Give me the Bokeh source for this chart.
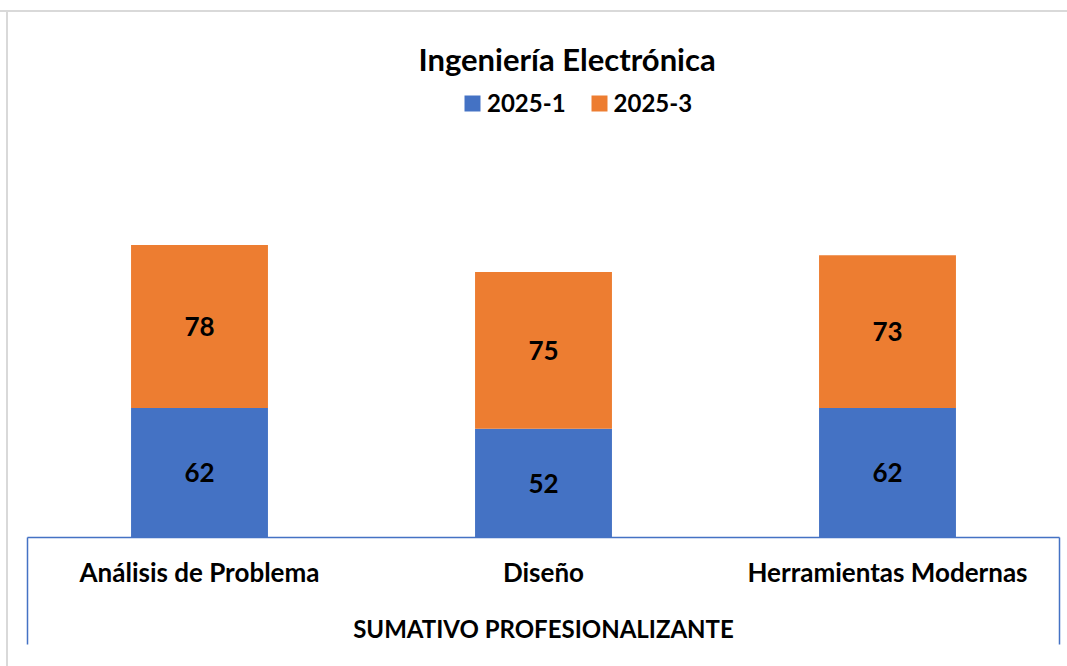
from bokeh.plotting import figure
from bokeh.models import (Range1d, FixedTicker, Legend, LegendItem, LabelSet,
                          ColumnDataSource)
from bokeh.core.properties import value
from bokeh.embed import file_html
from bokeh.resources import INLINE

# ---- data ----
categories = ["Análisis de Problema", "Diseño", "Herramientas Modernas"]
series_names = ["2025-1", "2025-3"]
values_2025_1 = [62, 52, 62]
values_2025_3 = [78, 75, 73]
group_label = "SUMATIVO PROFESIONALIZANTE"
chart_title = "Ingeniería Electrónica"

colors = ["#4472C4", "#ED7D31"]
FONT = "Lato"
Y_END = 215.3

x = [i + 0.5 for i in range(len(categories))]
top1 = values_2025_1
top3 = [a + b for a, b in zip(values_2025_1, values_2025_3)]
src = ColumnDataSource(dict(
    x=x,
    b1=[0] * len(x), t1=top1,
    b3=top1, t3=top3,
    m1=[v / 2 for v in values_2025_1],
    m3=[a + b / 2 for a, b in zip(values_2025_1, values_2025_3)],
    l1=[str(v) for v in values_2025_1],
    l3=[str(v) for v in values_2025_3],
))

p = figure(width=1067, height=666, output_backend="svg", toolbar_location=None,
           x_range=Range1d(0, len(categories)), y_range=Range1d(0, Y_END),
           min_border_left=27, min_border_right=8, min_border_bottom=129,
           min_border_top=87)
p.border_fill_color = None
p.styles = {
    "background": "linear-gradient(#D9D9D9,#D9D9D9) 0 10px / 100% 2px no-repeat, "
                  "linear-gradient(#D9D9D9,#D9D9D9) 6px 10px / 2px 100% no-repeat, white"
}

p.title.text = chart_title
p.title.text_font = FONT
p.title.text_font_size = "31px"
p.title.text_font_style = "bold"
p.title.text_color = "black"
p.title.align = "left"
p.title.offset = 391
p.title.standoff = 20

r1 = p.vbar(x="x", bottom="b1", top="t1", width=0.398, source=src,
            fill_color=colors[0], line_color=None)
r3 = p.vbar(x="x", bottom="b3", top="t3", width=0.398, source=src,
            fill_color=colors[1], line_color=None)

for col, ycol in (("l1", "m1"), ("l3", "m3")):
    p.add_layout(LabelSet(x="x", y=ycol, text=col, source=src,
                          text_align="center", text_baseline="middle",
                          text_font=value(FONT), text_font_size="26px",
                          text_font_style="bold", text_color="black"))

legend = Legend(items=[LegendItem(label=series_names[0], renderers=[r1]),
                       LegendItem(label=series_names[1], renderers=[r3])],
                orientation="horizontal", location=(435, 420),
                glyph_width=20, glyph_height=20, label_height=20,
                label_standoff=5, spacing=23, padding=0, margin=0,
                border_line_color=None, background_fill_alpha=0,
                label_text_font=FONT, label_text_font_size="24px",
                label_text_font_style="bold", label_text_color="black")
p.add_layout(legend)

p.yaxis.visible = False
p.grid.visible = False
p.outline_line_color = None

ax = p.xaxis[0]
ax.ticker = FixedTicker(ticks=x, minor_ticks=[0, len(categories)])
ax.major_label_overrides = {xv: c for xv, c in zip(x, categories)}
ax.major_tick_line_color = None
ax.major_tick_out = 0
ax.major_tick_in = 0
ax.minor_tick_in = 0
ax.minor_tick_out = 107
ax.minor_tick_line_color = "#4472C4"
ax.minor_tick_line_width = 1.5
ax.axis_line_color = "#4472C4"
ax.axis_line_width = 1.5
ax.major_label_standoff = -89
ax.major_label_text_font = FONT
ax.major_label_text_font_size = "26px"
ax.major_label_text_font_style = "bold"
ax.major_label_text_color = "black"
ax.axis_label = group_label
ax.axis_label_standoff = 23
ax.axis_label_text_font = FONT
ax.axis_label_text_font_size = "24px"
ax.axis_label_text_font_style = "bold"
ax.axis_label_text_color = "black"

open("out.html", "w").write(file_html(p, INLINE))
